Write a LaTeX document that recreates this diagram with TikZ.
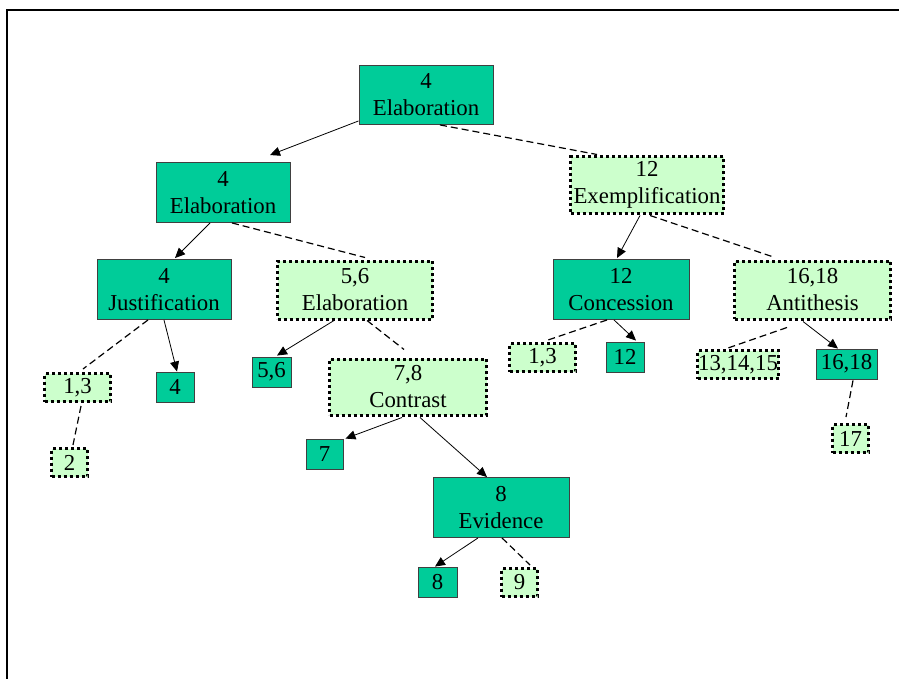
\documentclass[tikz,border=0pt]{standalone}
\usepackage{fontspec}
\setmainfont{Liberation Serif}
\usetikzlibrary{arrows.meta,calc}
\definecolor{satgreen}{HTML}{00CC99}
\definecolor{palegreen}{HTML}{CCFFCC}
\begin{document}
\begin{tikzpicture}[x=1pt,y=-1pt,
  every node/.style={inner sep=0pt,align=center,font=\fontsize{22.8}{27}\selectfont},
  nucleus/.style={draw=black!75,line width=0.9pt,fill=satgreen},
  satellite/.style={draw=black,line width=3pt,dash pattern=on 3pt off 3pt,fill=palegreen},
  solidlink/.style={line width=0.8pt,-{Triangle[length=10pt,width=9pt]}},
  dashlink/.style={line width=1.2pt,dash pattern=on 7pt off 4pt}]
\useasboundingbox (0,0) rectangle (899,679);
% outer frame
\draw[line width=1.2pt] (899,10) -- (7,10) -- (7,679);

% level 0
\node[nucleus,minimum width=134pt,minimum height=59pt] (root) at (426,95) {4\\Elaboration};
% level 1
\node[nucleus,minimum width=134pt,minimum height=60pt] (elab) at (223,192.5) {4\\Elaboration};
\node[satellite,minimum width=153pt,minimum height=56pt] (exemp) at (647,185) {12\\Exemplification};
% level 2
\node[nucleus,minimum width=134pt,minimum height=60pt] (just) at (164,289.5) {4\\Justification};
\node[satellite,minimum width=155pt,minimum height=58pt] (elabb) at (355,290) {5,6\\Elaboration};
\node[nucleus,minimum width=136pt,minimum height=60pt] (conc) at (621,289.5) {12\\Concession};
\node[satellite,minimum width=156pt,minimum height=58pt] (anti) at (812.5,290) {16,18\\Antithesis};
% level 3
\node[satellite,minimum width=66pt,minimum height=28pt] (sa) at (77.5,387.5) {1,3};
\node[nucleus,minimum width=38pt,minimum height=30pt] (nfour) at (175,387) {4};
\node[nucleus,minimum width=39pt,minimum height=30pt] (nfivesix) at (271.5,372) {5,6};
\node[satellite,minimum width=157pt,minimum height=56pt] (contr) at (408,387) {7,8\\Contrast};
\node[satellite,minimum width=66pt,minimum height=28pt] (sb) at (542.5,357.5) {1,3};
\node[nucleus,minimum width=38pt,minimum height=30pt] (ntwelve) at (625,357) {12};
\node[satellite,minimum width=81pt,minimum height=28pt] (sc) at (738,364.5) {13,14,15};
\node[nucleus,minimum width=61pt,minimum height=30pt] (nsixteen) at (846.5,364) {16,18};
% level 4
\node[satellite,minimum width=36pt,minimum height=28pt] (stwo) at (69.5,462.5) {2};
\node[nucleus,minimum width=37pt,minimum height=30pt] (nseven) at (324.5,454) {7};
\node[nucleus,minimum width=136pt,minimum height=60pt] (evid) at (501,507.5) {8\\Evidence};
\node[satellite,minimum width=36pt,minimum height=28pt] (sseventeen) at (850.5,438.5) {17};
% level 5
\node[nucleus,minimum width=39pt,minimum height=30pt] (neight) at (437.5,582) {8};
\node[satellite,minimum width=36pt,minimum height=28pt] (snine) at (519.5,582.5) {9};

% connectors: nucleus links solid with arrow, satellite links dashed
\draw[solidlink] ($(root.south west)+(0,-4)$) -- ($(elab.north)+(47,-7)$);
\draw[dashlink] ($(root.south)+(14,0)$) -- ($(exemp.north)+(-50,-1)$);

\draw[solidlink] ($(elab.south)+(-13,0)$) -- ($(just.north)+(11,-1)$);
\draw[dashlink] ($(elab.south)+(9,0)$) -- ($(elabb.north)+(10,-2)$);

\draw[dashlink] ($(just.south)+(-16,0)$) -- ($(sa.north)+(5.5,-3)$);
\draw[solidlink] (just.south) -- ($(nfour.north)+(2,0)$);
\draw[dashlink] ($(sa.south)+(3.5,3)$) -- ($(stwo.north)+(3.5,-2)$);

\draw[solidlink] ($(elabb.south)+(-21,0)$) -- ($(nfivesix.north)+(5.5,-1)$);
\draw[dashlink] ($(elabb.south)+(12,0)$) -- ($(contr.north)+(-4,-8)$);

\draw[solidlink] ($(contr.south)+(-6,1)$) -- ($(nseven.north east)+(2,0)$);
\draw[solidlink] ($(contr.south)+(12,1)$) -- ($(evid.north)+(-14,0)$);

\draw[solidlink] ($(evid.south)+(-23,0)$) -- ($(neight.north)+(-2.5,0)$);
\draw[dashlink] ($(evid.south)+(1,0)$) -- ($(snine.north)+(10.5,-2)$);

\draw[solidlink] ($(exemp.south)+(-7,1)$) -- ($(conc.north)+(-4,-1)$);
\draw[dashlink] ($(exemp.south)+(3,1)$) -- ($(anti.north)+(-37.5,-2)$);

\draw[dashlink] ($(conc.south)+(-14,0)$) -- ($(sb.north)+(5.5,-2)$);
\draw[solidlink] ($(conc.south)+(-7,0)$) -- ($(ntwelve.north)+(11,-1)$);

\draw[dashlink] ($(anti.south)+(-25.5,7)$) -- ($(sc.north)+(-10,-1)$);
\draw[solidlink] ($(anti.south)+(-9.5,1)$) -- ($(nsixteen.north)+(-8.5,0)$);
\draw[dashlink] ($(nsixteen.south)+(6.5,1)$) -- ($(sseventeen.north)+(-4.5,-6)$);
\end{tikzpicture}
\end{document}
